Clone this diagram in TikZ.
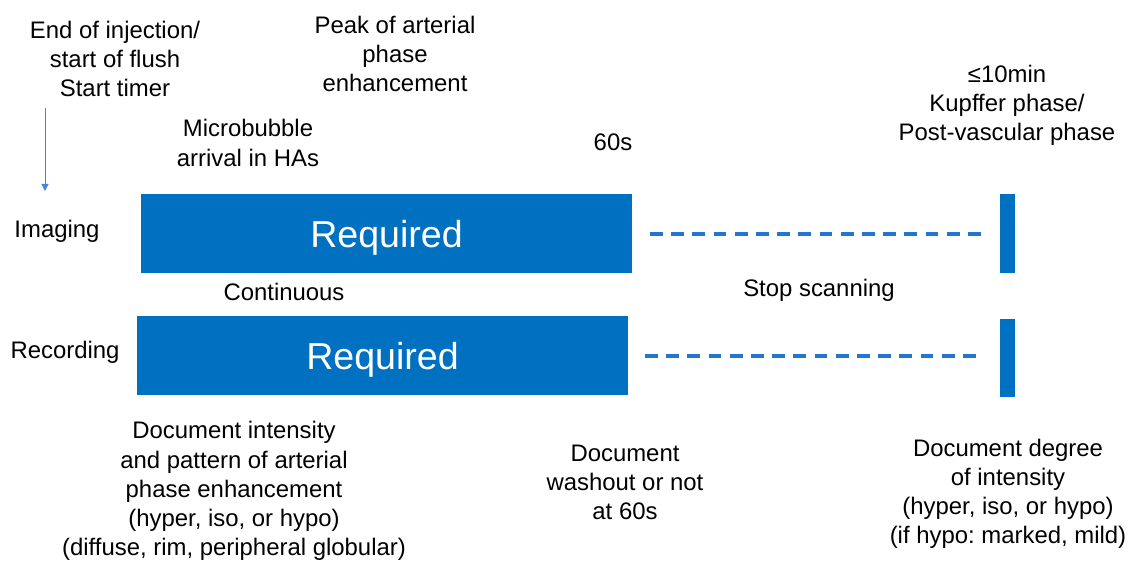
\documentclass[tikz,border=0pt]{standalone}
\usepackage{fontspec}
\setmainfont{Liberation Sans}
\usepackage{tikz}
\usetikzlibrary{arrows.meta,positioning}
\definecolor{boxblue}{RGB}{0,112,192}
\definecolor{dashblue}{RGB}{35,118,208}
\definecolor{arrowblue}{RGB}{70,130,225}
\frenchspacing

\begin{document}
\begin{tikzpicture}[x=0.025cm,y=-0.025cm,
  lbl/.style={align=center,inner sep=0pt,font=\fontsize{17}{20.7}\selectfont},
  reqbox/.style={rectangle,fill=boxblue,text=white,inner sep=0pt,text depth=0pt,minimum width=12.275cm,minimum height=1.975cm,font=\fontsize{26.7}{30}\selectfont},
  endbar/.style={rectangle,fill=boxblue,inner sep=0pt,minimum width=0.375cm},
  stopline/.style={dashblue,line width=2.6pt,dash pattern=on 0.32cm off 0.21cm}]
\useasboundingbox (0,0) rectangle (1129,564);

\node[lbl] (start) at (115,59) {End of injection/\\start of flush\\Start timer};
\node[lbl] (peak) at (395,54) {Peak of arterial\\phase\\enhancement};
\node[lbl] (arrival) at (248,143) {Microbubble\\arrival in HAs};
\node[lbl] (sixty) at (613,142) {60s};
\node[lbl] (kupffer) at (1007,105) {≤10min\\Kupffer phase/\\Post-vascular phase};

\node[lbl] (imaging) at (57,231) {Imaging};
\node[lbl] (recording) at (65,352) {Recording};
\node[reqbox] (req1) at (386.5,233.5) {Required};
\node[reqbox] (req2) at (382.5,355.5) {Required};
\node[endbar,minimum height=1.975cm] (bar1) at (1007.5,233.5) {};
\node[endbar,minimum height=1.95cm] (bar2) at (1007.5,358) {};
\node[lbl] (cont) at (284,292) {Continuous};
\node[lbl] (stop) at (819,290) {Stop scanning};

\node[lbl] (doc1) at (234,491) {Document intensity\\and pattern of arterial\\phase enhancement\\(hyper, iso, or hypo)\\(diffuse, rim, peripheral globular)};
\node[lbl] (doc2) at (625,482) {Document\\washout or not\\at 60s};
\node[lbl] (doc3) at (1008,494) {Document degree\\of intensity\\(hyper, iso, or hypo)\\(if hypo: marked, mild)};

\coordinate (a1) at (45,108);
\coordinate (a2) at (45,191);
\draw[arrowblue,line width=0.7pt,-{Triangle[width=5pt,length=5pt]}] (a1) -- (a2);

\coordinate (d1) at (650,234);
\coordinate (d2) at (982,234);
\coordinate (d3) at (645,356);
\coordinate (d4) at (977,356);
\draw[stopline] (d1) -- (d2);
\draw[stopline] (d3) -- (d4);

\end{tikzpicture}
\end{document}
